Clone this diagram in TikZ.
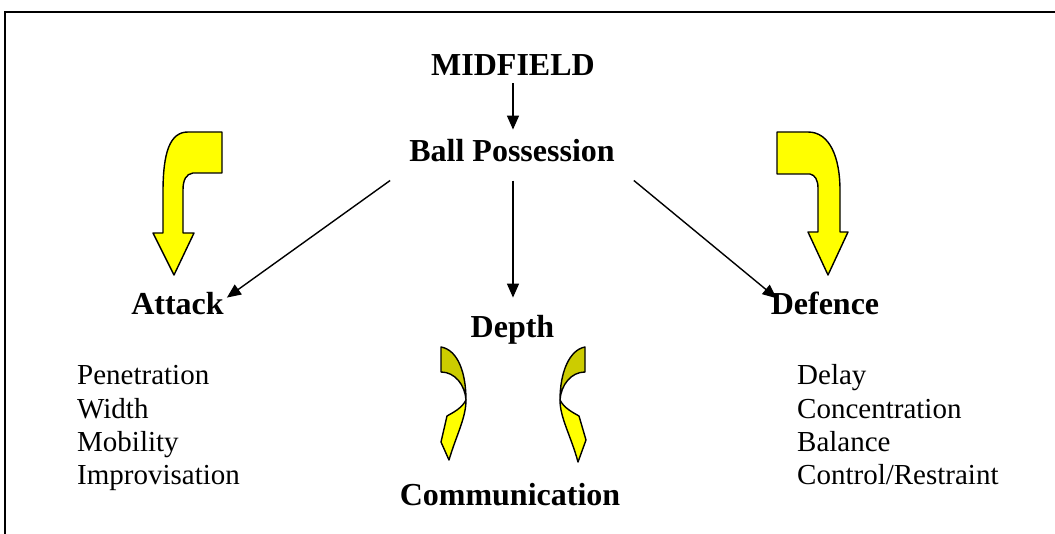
\documentclass[tikz,border=0pt]{standalone}
\usepackage{fontspec}
\setmainfont{Liberation Serif}
\usetikzlibrary{arrows.meta}
\definecolor{backyellow}{RGB}{204,204,0}
\definecolor{frontyellow}{RGB}{255,255,0}
\tikzset{
  title/.style={anchor=base, inner sep=0pt, font=\fontsize{32}{38}\selectfont\bfseries},
  item/.style={anchor=base west, inner sep=0pt, font=\fontsize{29}{33}\selectfont},
  conn/.style={line width=1.4pt, -{Triangle[length=14pt,width=12pt]}},
  bigarrow/.style={fill=frontyellow, draw=black, line width=1.4pt, line join=round},
  backarr/.style={fill=backyellow, draw=black, line width=1.4pt, line join=round},
  frontarr/.style={fill=frontyellow, draw=black, line width=1.4pt, line join=round},
  frameline/.style={line width=2.2pt}
}
\begin{document}
\begin{tikzpicture}[x=1pt,y=-1pt]
\useasboundingbox (0,0) rectangle (1055,534);
\fill[white] (0,0) rectangle (1055,534);
% frame
\draw[frameline] (5,534) -- (5,12) -- (1056,12);

% titles
\node[title] (mid) at (513,76) {MIDFIELD};
\node[title] (bp)  at (512,162) {Ball Possession};
\node[title] (att) at (177.5,315) {Attack};
\node[title] (def) at (825,315) {Defence};
\node[title] (dep) at (512.5,338) {Depth};
\node[title] (com) at (510,505) {Communication};

% lists
\node[item] (a1) at (77,385) {Penetration};
\node[item] (a2) at (77,418) {Width};
\node[item] (a3) at (77,451) {Mobility};
\node[item] (a4) at (77,484) {Improvisation};
\node[item] (d1) at (797,385) {Delay};
\node[item] (d2) at (797,418) {Concentration};
\node[item] (d3) at (797,451) {Balance};
\node[item] (d4) at (797,484) {Control/Restraint};

% connectors
\draw[conn] ([yshift=-7pt]mid.south) -- ([yshift=10pt]mid.south |- bp.north);
\draw[conn] ([xshift=-19pt,yshift=-18pt]bp.south west) -- ([xshift=3pt,yshift=-5pt]att.north east);
\draw[conn] ([xshift=1pt,yshift=-18pt]bp.south) -- ([xshift=0.5pt,yshift=18pt]dep.north);
\draw[conn] ([xshift=19pt,yshift=-18pt]bp.south east) -- ([xshift=6pt,yshift=-6pt]def.north west);

% big bent arrows
\draw[bigarrow] (222,132) -- (222,173) -- (193,173)
  .. controls (186,174) and (183,180) .. (183,190) -- (183,233) -- (194,233)
  -- (174,275) -- (153,233) -- (163,233) -- (163,192)
  .. controls (163,152) and (170,132) .. (188,132) -- cycle;
\draw[bigarrow] (777,132) -- (777,174) -- (810,174)
  .. controls (815,175) and (818,180) .. (818,188) -- (818,232) -- (808,232)
  -- (828,275) -- (848,232) -- (840,232) -- (840,190)
  .. controls (840,158) and (830,132) .. (808,132) -- cycle;

% small curved arrows (left)
\draw[backarr] (441,347) .. controls (458,350) and (466,373) .. (466,400)
  .. controls (465,385) and (455,372) .. (441,372) -- cycle;
\draw[frontarr] (466,400) .. controls (466,418) and (456,436) .. (449,460)
  -- (441,442) -- (447,416) .. controls (454,412) and (462,408) .. (466,400) -- cycle;
% small curved arrows (right)
\draw[backarr] (585,347) .. controls (569,350) and (560,373) .. (560,400)
  .. controls (561,385) and (571,372) .. (585,372) -- cycle;
\draw[frontarr] (560,400) .. controls (560,418) and (571,436) .. (578,462)
  -- (586,440) -- (579,416) .. controls (572,412) and (564,408) .. (560,400) -- cycle;
\end{tikzpicture}
\end{document}
